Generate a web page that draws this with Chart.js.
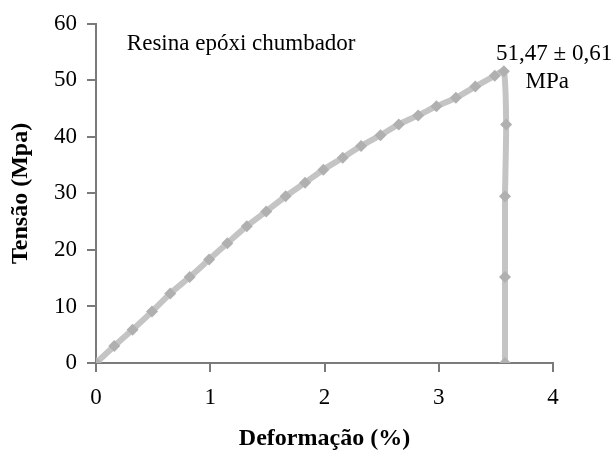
<!DOCTYPE html>
<html>
<head>
<meta charset="utf-8">
<script src="https://cdn.jsdelivr.net/npm/chart.js@4/dist/chart.umd.min.js"></script>
<style>
  html, body { margin: 0; padding: 0; background: #fff; }
  #wrap { width: 616px; height: 452px; }
</style>
</head>
<body>
<div id="wrap"><canvas id="stressChart" width="616" height="452"></canvas></div>
<script>
// deformação (%) e tensão (MPa)
const strain = [0, 0.16, 0.32, 0.49, 0.65, 0.82, 0.99, 1.15, 1.32, 1.49, 1.66, 1.83, 1.99,
  2.16, 2.32, 2.49, 2.65, 2.82, 2.98, 3.15, 3.32, 3.49, 3.57, 3.59, 3.58, 3.58, 3.58];
const stress = [0, 3.0, 5.9, 9.1, 12.3, 15.2, 18.3, 21.2, 24.2, 26.8, 29.5, 31.9, 34.2,
  36.3, 38.4, 40.3, 42.2, 43.8, 45.4, 46.9, 48.9, 50.8, 51.6, 42.2, 29.5, 15.2, 0];
const xTicks = [0, 1, 2, 3, 4];
const yTicks = [0, 10, 20, 30, 40, 50, 60];

const seriesName = 'Resina epóxi chumbador';
const peakText = ['51,47 ± 0,61', 'MPa'];

const serif = "'Liberation Serif', 'Times New Roman', serif";
const axisGray = '#7a7a7a';

const points = strain.map((x, i) => ({ x: x, y: stress[i] }));

// textos dentro da área do gráfico, posicionados em coordenadas de dados
const notes = {
  id: 'notes',
  afterDatasetsDraw(chart) {
    const { ctx, scales: { x, y } } = chart;
    ctx.save();
    ctx.fillStyle = '#000';
    ctx.font = '23px ' + serif;
    ctx.textBaseline = 'middle';
    ctx.textAlign = 'left';
    ctx.fillText(seriesName, x.getPixelForValue(0.27), y.getPixelForValue(56.5));
    ctx.textAlign = 'center';
    ctx.fillText(peakText[0], x.getPixelForValue(4.01), y.getPixelForValue(54.6));
    ctx.fillText(peakText[1], x.getPixelForValue(3.95), y.getPixelForValue(49.8));
    ctx.restore();
  }
};

new Chart(document.getElementById('stressChart'), {
  type: 'line',
  data: {
    datasets: [{
      label: seriesName,
      data: points,
      borderColor: '#c4c4c4',
      borderWidth: 6,
      tension: 0.2,
      pointStyle: 'rectRot',
      pointRadius: 6,
      pointBackgroundColor: '#b0b0b0',
      pointBorderColor: '#b0b0b0',
      pointBorderWidth: 0
    }]
  },
  options: {
    responsive: false,
    animation: false,
    layout: { padding: { left: 0, right: 63, top: 22, bottom: 0 } },
    plugins: { legend: { display: false }, tooltip: { enabled: false } },
    scales: {
      x: {
        type: 'linear',
        min: 0, max: 4,
        afterBuildTicks: s => { s.ticks = xTicks.map(v => ({ value: v })); },
        afterFit: s => { s.height = 89; },
        border: { color: axisGray, width: 2 },
        grid: { drawOnChartArea: false, color: axisGray, lineWidth: 2, tickLength: 9 },
        ticks: { color: '#000', padding: 12, maxRotation: 0, font: { family: serif, size: 23 } },
        title: {
          display: true, text: 'Deformação (%)', color: '#000',
          padding: { top: 0, bottom: 0 },
          font: { family: serif, size: 24, weight: 'bold', lineHeight: 1.1 }
        }
      },
      y: {
        min: 0, max: 60,
        afterBuildTicks: s => { s.ticks = yTicks.map(v => ({ value: v })); },
        afterFit: s => { s.width = 96; },
        border: { color: axisGray, width: 2 },
        grid: { drawOnChartArea: false, color: axisGray, lineWidth: 2, tickLength: 9 },
        ticks: { color: '#000', padding: 10, font: { family: serif, size: 23 } },
        title: {
          display: true, text: 'Tensão (Mpa)', color: '#000',
          padding: { top: 8, bottom: 0 },
          font: { family: serif, size: 24, weight: 'bold', lineHeight: 1.1 }
        }
      }
    }
  },
  plugins: [notes]
});
</script>
</body>
</html>
